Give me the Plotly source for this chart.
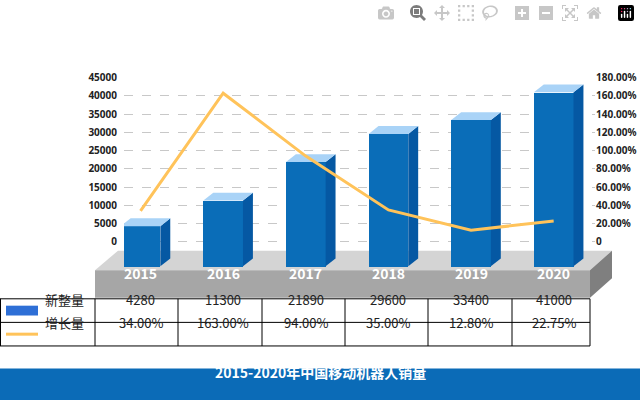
import plotly.graph_objects as go

years = ["2015", "2016", "2017", "2018", "2019", "2020"]
sales = [4280, 11300, 21890, 29600, 33400, 41000]
growth = [34.00, 163.00, 94.00, 35.00, 12.80, 22.75]
sales_labels = ["4280", "11300", "21890", "29600", "33400", "41000"]
growth_labels = ["34.00%", "163.00%", "94.00%", "35.00%", "12.80%", "22.75%"]
left_ticks = [0, 5000, 10000, 15000, 20000, 25000, 30000, 35000, 40000, 45000]
right_ticks = [0, 20, 40, 60, 80, 100, 120, 140, 160, 180]
title = "2015-2020年中国移动机器人销量"

W, H = 640, 400
def px(x): return x / W
def py(y): return 1 - y / H

FONT = "Noto Sans CJK SC"
BASE = -6700
BW = 0.48
DX = 0.12
DY = 2150
xs = list(range(len(years)))

fig = go.Figure()
for i, v in zip(xs, sales):
    r = i + BW / 2
    l = i - BW / 2
    fig.add_trace(go.Scatter(x=[r, r + DX, r + DX, r, r], y=[BASE, BASE + DY, v + DY, v, BASE],
                             fill="toself", fillcolor="#0558A3", line=dict(width=0), mode="lines",
                             hoverinfo="skip", showlegend=False))
    fig.add_trace(go.Scatter(x=[l, r, r + DX, l + DX, l], y=[v, v, v + DY, v + DY, v],
                             fill="toself", fillcolor="#A9D3F7", line=dict(width=0), mode="lines",
                             hoverinfo="skip", showlegend=False))
fig.add_trace(go.Bar(x=xs, y=[v - BASE for v in sales], base=BASE, width=BW,
                     marker=dict(color="#0A6DB8", line=dict(width=0)), showlegend=False))
fig.add_trace(go.Scatter(x=xs, y=growth, yaxis="y2", mode="lines",
                         line=dict(color="#FFC35A", width=3), showlegend=False))

shapes = []
shapes.append(dict(type="path", xref="paper", yref="paper", layer="below",
                   path=f"M{px(118)},{py(248)} L{px(612)},{py(248)} L{px(590)},{py(268)} L{px(95)},{py(268)} Z",
                   fillcolor="#D4D4D4", line=dict(width=0)))
shapes.append(dict(type="rect", xref="paper", yref="paper", layer="below",
                   x0=px(95), x1=px(590), y0=py(296), y1=py(268), fillcolor="#A6A6A6", line=dict(width=0)))
shapes.append(dict(type="path", xref="paper", yref="paper", layer="below",
                   path=f"M{px(590)},{py(268)} L{px(612)},{py(248)} L{px(612)},{py(276)} L{px(590)},{py(296)} Z",
                   fillcolor="#7F7F7F", line=dict(width=0)))
for y in [297, 321, 345]:
    shapes.append(dict(type="line", xref="paper", yref="paper", x0=px(0), x1=px(590), y0=py(y), y1=py(y),
                       line=dict(color="#000", width=1)))
for x in [0.5, 95, 178, 262, 345, 428, 512, 590]:
    shapes.append(dict(type="line", xref="paper", yref="paper", x0=px(x), x1=px(x), y0=py(297), y1=py(345),
                       line=dict(color="#000", width=1)))
shapes.append(dict(type="rect", xref="paper", yref="paper", x0=px(6), x1=px(38), y0=py(314), y1=py(304),
                   fillcolor="#2E6FD6", line=dict(width=0)))
shapes.append(dict(type="line", xref="paper", yref="paper", x0=px(6), x1=px(38), y0=py(333), y1=py(333),
                   line=dict(color="#FFC35A", width=3)))
shapes.append(dict(type="rect", xref="paper", yref="paper", x0=0, x1=1, y0=0, y1=py(368),
                   fillcolor="#0B6BB7", line=dict(width=0), layer="below"))

ann = []
for i, y in enumerate(years):
    ann.append(dict(x=i, xref="x", y=py(283), yref="paper", text="<b>" + y + "</b>", showarrow=False,
                    font=dict(color="white", size=14, family=FONT)))
    ann.append(dict(x=i, xref="x", y=py(309), yref="paper", text=sales_labels[i], showarrow=False,
                    font=dict(color="#222", size=13, family=FONT)))
    ann.append(dict(x=i, xref="x", y=py(333), yref="paper", text=growth_labels[i], showarrow=False,
                    font=dict(color="#222", size=13, family=FONT)))
ann.append(dict(x=px(43), xref="paper", xanchor="left", y=py(309), yref="paper", text="新整量",
                showarrow=False, font=dict(color="#222", size=13, family=FONT)))
ann.append(dict(x=px(43), xref="paper", xanchor="left", y=py(333), yref="paper", text="增长量",
                showarrow=False, font=dict(color="#222", size=13, family=FONT)))
ann.append(dict(x=0.5, xref="paper", y=py(384), yref="paper", text="<b>" + title + "</b>", showarrow=False,
                font=dict(color="white", size=14, family=FONT)))

fig.update_layout(
    width=W, height=H, margin=dict(l=0, r=0, t=0, b=0),
    paper_bgcolor="white", plot_bgcolor="rgba(0,0,0,0)",
    font=dict(family=FONT), shapes=shapes, annotations=ann, bargap=0,
    xaxis=dict(range=[-0.2, 5.5], domain=[px(124), px(595)], showticklabels=False,
               showgrid=False, zeroline=False, fixedrange=True),
    yaxis=dict(range=[-9700, 45000], domain=[py(275), py(72)], tickvals=left_ticks,
               ticktext=[str(v) for v in left_ticks],
               tickfont=dict(size=10, color="#222", family="Noto Sans", weight="bold"), ticklabelstandoff=6,
               showgrid=True, gridcolor="#C8C8C8", griddash="dash", zeroline=False),
    yaxis2=dict(range=[-38.8, 180], overlaying="y", side="right", tickvals=right_ticks,
                ticktext=["0"] + [f"{v:.2f}%" for v in right_ticks[1:]],
                tickfont=dict(size=10, color="#222", family="Noto Sans", weight="bold"),
                showgrid=False, zeroline=False),
)
fig.write_html("out.html", post_script="document.body.style.margin='0';document.body.style.overflow='hidden';")
